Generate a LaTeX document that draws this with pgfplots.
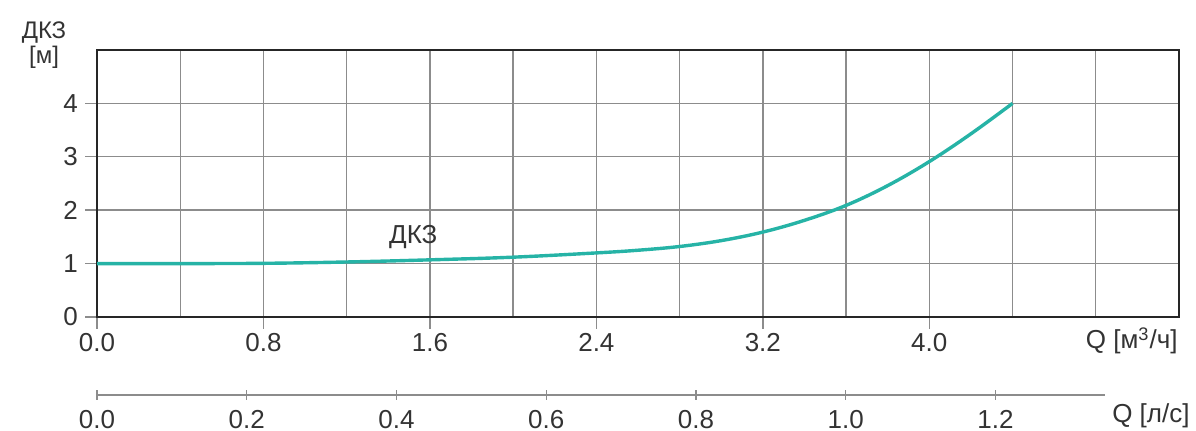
\documentclass[border=0pt]{standalone}
\usepackage{fontspec}
\setmainfont{Liberation Sans}
\usepackage{pgfplots}
\pgfplotsset{compat=1.18}
\definecolor{curve}{HTML}{26B3A6}
\definecolor{gridc}{HTML}{8C8C8C}
\definecolor{txt}{HTML}{333333}
\begin{document}
\begin{tikzpicture}
\begin{axis}[
  scale only axis,
  width=541pt, height=133.5pt,
  at={(48.5pt,57pt)}, anchor=south west,
  xmin=0, xmax=5.2, ymin=0, ymax=5,
  xtick={0,0.8,1.6,2.4,3.2,4.0},
  xticklabels={0.0,0.8,1.6,2.4,3.2,4.0},
  minor xtick={0.4,1.2,2.0,2.8,3.6,4.4,4.8},
  ytick={0,1,2,3,4},
  yticklabels={0,1,2,3,4},
  grid=both,
  major grid style={gridc, line width=0.7pt},
  minor grid style={gridc, line width=0.7pt},
  minor tick length=0pt,
  major tick length=6pt,
  tick align=outside,
  xtick pos=bottom, ytick pos=left,
  tick style={gridc, line width=0.7pt},
  axis line style={black!85, line width=1.2pt},
  tick label style={font=\fontsize{13}{14}\selectfont, text=txt},
  xticklabel style={yshift=1.5pt},
  clip=false,
]
\addplot[curve, line width=1.7pt, smooth, tension=0.6] coordinates {
 (0,1.00) (0.4,1.00) (0.8,1.005) (1.2,1.03) (1.6,1.07) (2.0,1.12)
 (2.4,1.20) (2.6,1.25) (2.8,1.32) (3.0,1.43) (3.2,1.59) (3.4,1.81)
 (3.6,2.09) (3.8,2.46) (4.0,2.91) (4.2,3.43) (4.4,4.00)
};
\node[font=\fontsize{13}{14}\selectfont, text=txt] at (axis cs:1.52,1.50) {ДКЗ};
\end{axis}
\begin{axis}[
  scale only axis,
  width=504pt, height=10pt,
  at={(48.5pt,18pt)}, anchor=south west,
  xmin=0, xmax=1.3462, ymin=0, ymax=1,
  axis x line=bottom, axis y line=none,
  axis line style={-, gridc, line width=0.8pt},
  xtick={0,0.2,0.4,0.6,0.8,1.0,1.2},
  xticklabels={0.0,0.2,0.4,0.6,0.8,1.0,1.2},
  tick align=center, major tick length=5pt,
  tick style={gridc, line width=0.6pt},
  tick label style={font=\fontsize{13}{14}\selectfont, text=txt},
  xticklabel style={yshift=-1.5pt},
]
\addplot[draw=none] coordinates {(0,0) (1.2,0)};
\end{axis}
\node[font=\fontsize{12}{13}\selectfont, text=txt, align=center, inner sep=0pt] at (22pt,193pt) {ДКЗ\\[-0.5pt][м]};
\node[font=\fontsize{13}{14}\selectfont, text=txt, anchor=east, inner sep=0pt] at (589pt,45pt) {Q [м\textsuperscript{3}/ч]};
\node[font=\fontsize{13}{14}\selectfont, text=txt, anchor=east, inner sep=0pt] at (595pt,7.5pt) {Q [л/с]};
\pgfresetboundingbox
\path[use as bounding box] (0,0) rectangle (598pt,215.5pt);
\end{tikzpicture}
\end{document}
